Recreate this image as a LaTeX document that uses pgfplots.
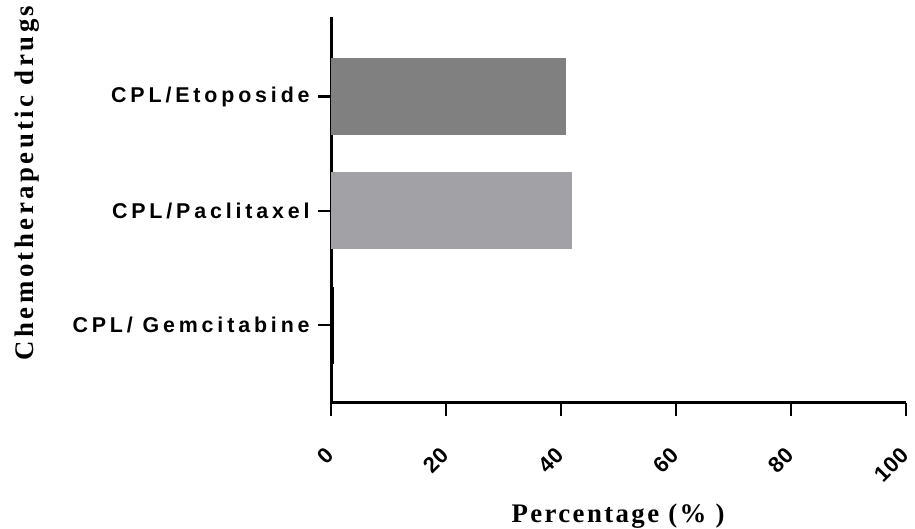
\documentclass[border=0pt]{standalone}
\usepackage{fontspec}
\usepackage{pgfplots}
\pgfplotsset{compat=1.18}
\newfontfamily\catfont[LetterSpace=18]{Liberation Sans}
\newfontfamily\numfont{Liberation Sans}
\newfontfamily\xtitfont[LetterSpace=9]{Liberation Serif}
\newfontfamily\ytitfont[LetterSpace=13]{Liberation Serif}
\definecolor{etop}{RGB}{128,128,128}
\definecolor{pacl}{RGB}{162,161,166}
\begin{document}
\begin{tikzpicture}
\useasboundingbox (0,0) rectangle (457.5pt,264.5pt);
\begin{axis}[
  at={(165.5pt,63pt)}, anchor=south west,
  scale only axis, width=287.5pt, height=193pt,
  xmin=0, xmax=100, ymin=-0.683, ymax=2.698,
  axis x line=bottom, axis y line=left,
  axis line style={-, line width=1.5pt},
  xtick={0,20,40,60,80,100},
  ytick={0,1,2},
  yticklabels={CPL/ Gemcitabine, CPL/Paclitaxel, CPL/Etoposide},
  tick align=outside, major tick length=6.5pt,
  tick style={line width=1.3pt, black},
  /pgf/number format/assume math mode=true,
  xticklabel style={font=\numfont\fontsize{11pt}{13pt}\selectfont\bfseries, rotate=45, anchor=east, inner sep=1pt},
  xticklabel shift=17pt,
  yticklabel style={font=\catfont\fontsize{10.7pt}{12pt}\selectfont\bfseries, inner sep=2pt},
  yticklabel shift=2pt,
  xbar, bar width=38.5pt, bar shift=0pt,
  clip=false,
]
\addplot[fill=black, draw=none] coordinates {(0.45,0)};
\addplot[fill=pacl, draw=none] coordinates {(41.9,1)};
\addplot[fill=etop, draw=none] coordinates {(40.9,2)};
\end{axis}
\node[font=\xtitfont\fontsize{13.4pt}{15pt}\selectfont\bfseries, anchor=base, inner sep=0pt] at (309pt,3pt) {Percentage (\% )};
\node[font=\ytitfont\fontsize{13.4pt}{15pt}\selectfont\bfseries, anchor=base, rotate=90, inner sep=0pt] at (16.5pt,173pt) {Chemotherapeutic drugs};
\end{tikzpicture}
\end{document}
